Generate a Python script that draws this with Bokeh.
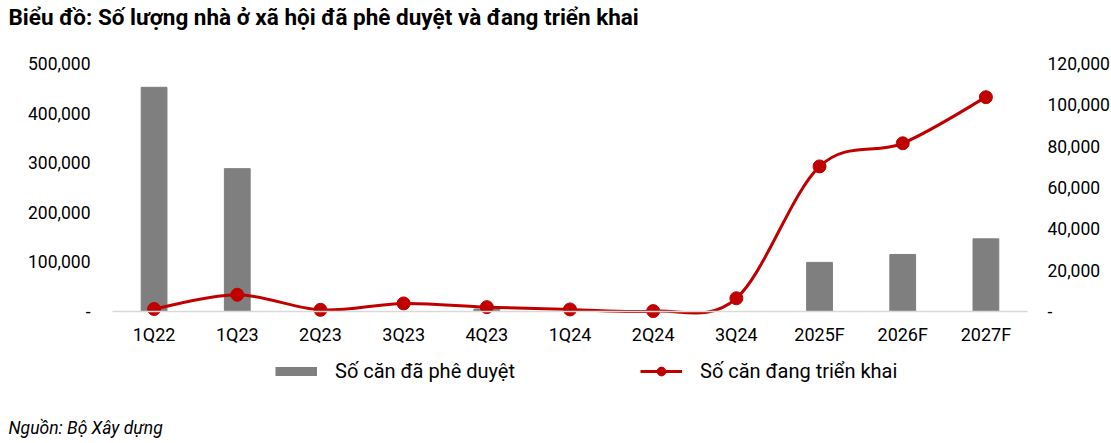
from bokeh.plotting import figure
from bokeh.models import (Range1d, LinearAxis, FixedTicker, NumeralTickFormatter,
                          Label, Legend, LegendItem)
from bokeh.embed import file_html
from bokeh.resources import INLINE

categories = ["1Q22", "1Q23", "2Q23", "3Q23", "4Q23", "1Q24", "2Q24", "3Q24", "2025F", "2026F", "2027F"]
approved = [452000, 288000, 0, 0, 5000, 0, 0, 0, 99000, 115000, 146500]
deploying = [1200, 8100, 800, 3900, 2100, 1000, 200, 6400, 70200, 81400, 103700]
left_ticks = [0, 100000, 200000, 300000, 400000, 500000]
right_ticks = [0, 20000, 40000, 60000, 80000, 100000, 120000]
left_max = 500000
right_max = 120000

title_text = "Biểu đồ: Số lượng nhà ở xã hội đã phê duyệt và đang triển khai"
source_text = "Nguồn: Bộ Xây dựng"
bar_label = "Số căn đã phê duyệt"
line_label = "Số căn đang triển khai"

GRAY = "#7F7F7F"
RED = "#C00000"
FONT = "Roboto"

# layout (pixels): the frame covers the whole canvas, the plot area sits inside it
W, H = 1111, 443
PL, PR = 112, 1027      # plot area left / right
PT, PB = 63, 311        # plot area top / bottom
n = len(categories)
kx = (PR - PL) / n
ky_l = left_max / (PB - PT)
ky_r = right_max / (PB - PT)

p = figure(width=W, height=H, output_backend="svg", toolbar_location=None,
           x_range=Range1d(-PL / kx, n + (W - PR) / kx),
           y_range=Range1d(-(H - PB) * ky_l, left_max + PT * ky_l),
           min_border=0, x_axis_location=None, y_axis_location=None)
p.extra_y_ranges = {"right": Range1d(-(H - PB) * ky_r, right_max + PT * ky_r)}
p.title.visible = False
p.outline_line_color = None
p.grid.grid_line_color = None
p.background_fill_color = "white"
p.border_fill_color = "white"

xs = [i + 0.5 for i in range(n)]
bars = p.vbar(x=xs, top=approved, width=0.31, color=GRAY)

# smooth line (Catmull-Rom -> cubic Bezier) computed from data
x0, y0, x1, y1, cx0, cy0, cx1, cy1 = [], [], [], [], [], [], [], []
for i in range(n - 1):
    pm = max(i - 1, 0)
    pp = min(i + 2, n - 1)
    x0.append(xs[i]); y0.append(deploying[i])
    x1.append(xs[i + 1]); y1.append(deploying[i + 1])
    cx0.append(xs[i] + (xs[i + 1] - xs[pm]) / 6); cy0.append(deploying[i] + (deploying[i + 1] - deploying[pm]) / 6)
    cx1.append(xs[i + 1] - (xs[pp] - xs[i]) / 6); cy1.append(deploying[i + 1] - (deploying[pp] - deploying[i]) / 6)
curve = p.bezier(x0=x0, y0=y0, x1=x1, y1=y1, cx0=cx0, cy0=cy0, cx1=cx1, cy1=cy1,
                 line_color=RED, line_width=3, y_range_name="right")
pts = p.scatter(x=xs, y=deploying, size=13, color=RED, y_range_name="right")

# legend swatch for the bars (hidden renderer, shown only in the legend)
bar_swatch = p.line(x=xs, y=approved, line_color=GRAY, line_width=9, visible=False)

# axes
xa = LinearAxis(ticker=FixedTicker(ticks=xs), fixed_location=0, bounds=(0, n))
xa.major_label_overrides = {x: c for x, c in zip(xs, categories)}
xa.axis_line_color = "#d9d9d9"
xa.axis_line_width = 1.5
xa.major_label_standoff = 12
p.add_layout(xa, "below")

la = LinearAxis(ticker=FixedTicker(ticks=left_ticks), formatter=NumeralTickFormatter(format="0,0"),
                fixed_location=0)
ra = LinearAxis(y_range_name="right", ticker=FixedTicker(ticks=right_ticks),
                formatter=NumeralTickFormatter(format="0,0"), fixed_location=n)
la.major_label_standoff = 22
ra.major_label_standoff = 20
for ax in (la, ra):
    ax.major_label_overrides = {0: "-"}
    ax.axis_line_color = None
for ax, fs in ((xa, "18px"), (la, "17.5px"), (ra, "17.5px")):
    ax.major_tick_line_color = None
    ax.minor_tick_line_color = None
    ax.major_tick_out = 0
    ax.major_tick_in = 0
    ax.minor_tick_out = 0
    ax.minor_tick_in = 0
    ax.major_label_text_font = FONT
    ax.major_label_text_font_size = fs
    ax.major_label_text_color = "#000000"
p.add_layout(la, "left")
p.add_layout(ra, "right")

lg = Legend(items=[LegendItem(label=bar_label, renderers=[bar_swatch]),
                   LegendItem(label=line_label, renderers=[curve, pts])],
            location=(275, 60), orientation="horizontal", glyph_width=42, glyph_height=22,
            label_standoff=18, spacing=125, padding=0, margin=0, border_line_color=None,
            background_fill_alpha=0, label_text_font=FONT, label_text_font_size="20px",
            label_text_color="#000000", label_height=22, inactive_fill_alpha=0)
p.add_layout(lg, "center")

p.add_layout(Label(x=8, y=H - 16, x_units="screen", y_units="screen", text=title_text,
                   text_font=FONT, text_font_style="bold", text_font_size="22.5px",
                   text_baseline="alphabetic", text_color="#000000"))
p.add_layout(Label(x=8, y=H - 427, x_units="screen", y_units="screen", text=source_text,
                   text_font=FONT, text_font_style="italic", text_font_size="17.5px",
                   text_baseline="alphabetic", text_color="#000000"))

open("out.html", "w").write(file_html(p, INLINE))
